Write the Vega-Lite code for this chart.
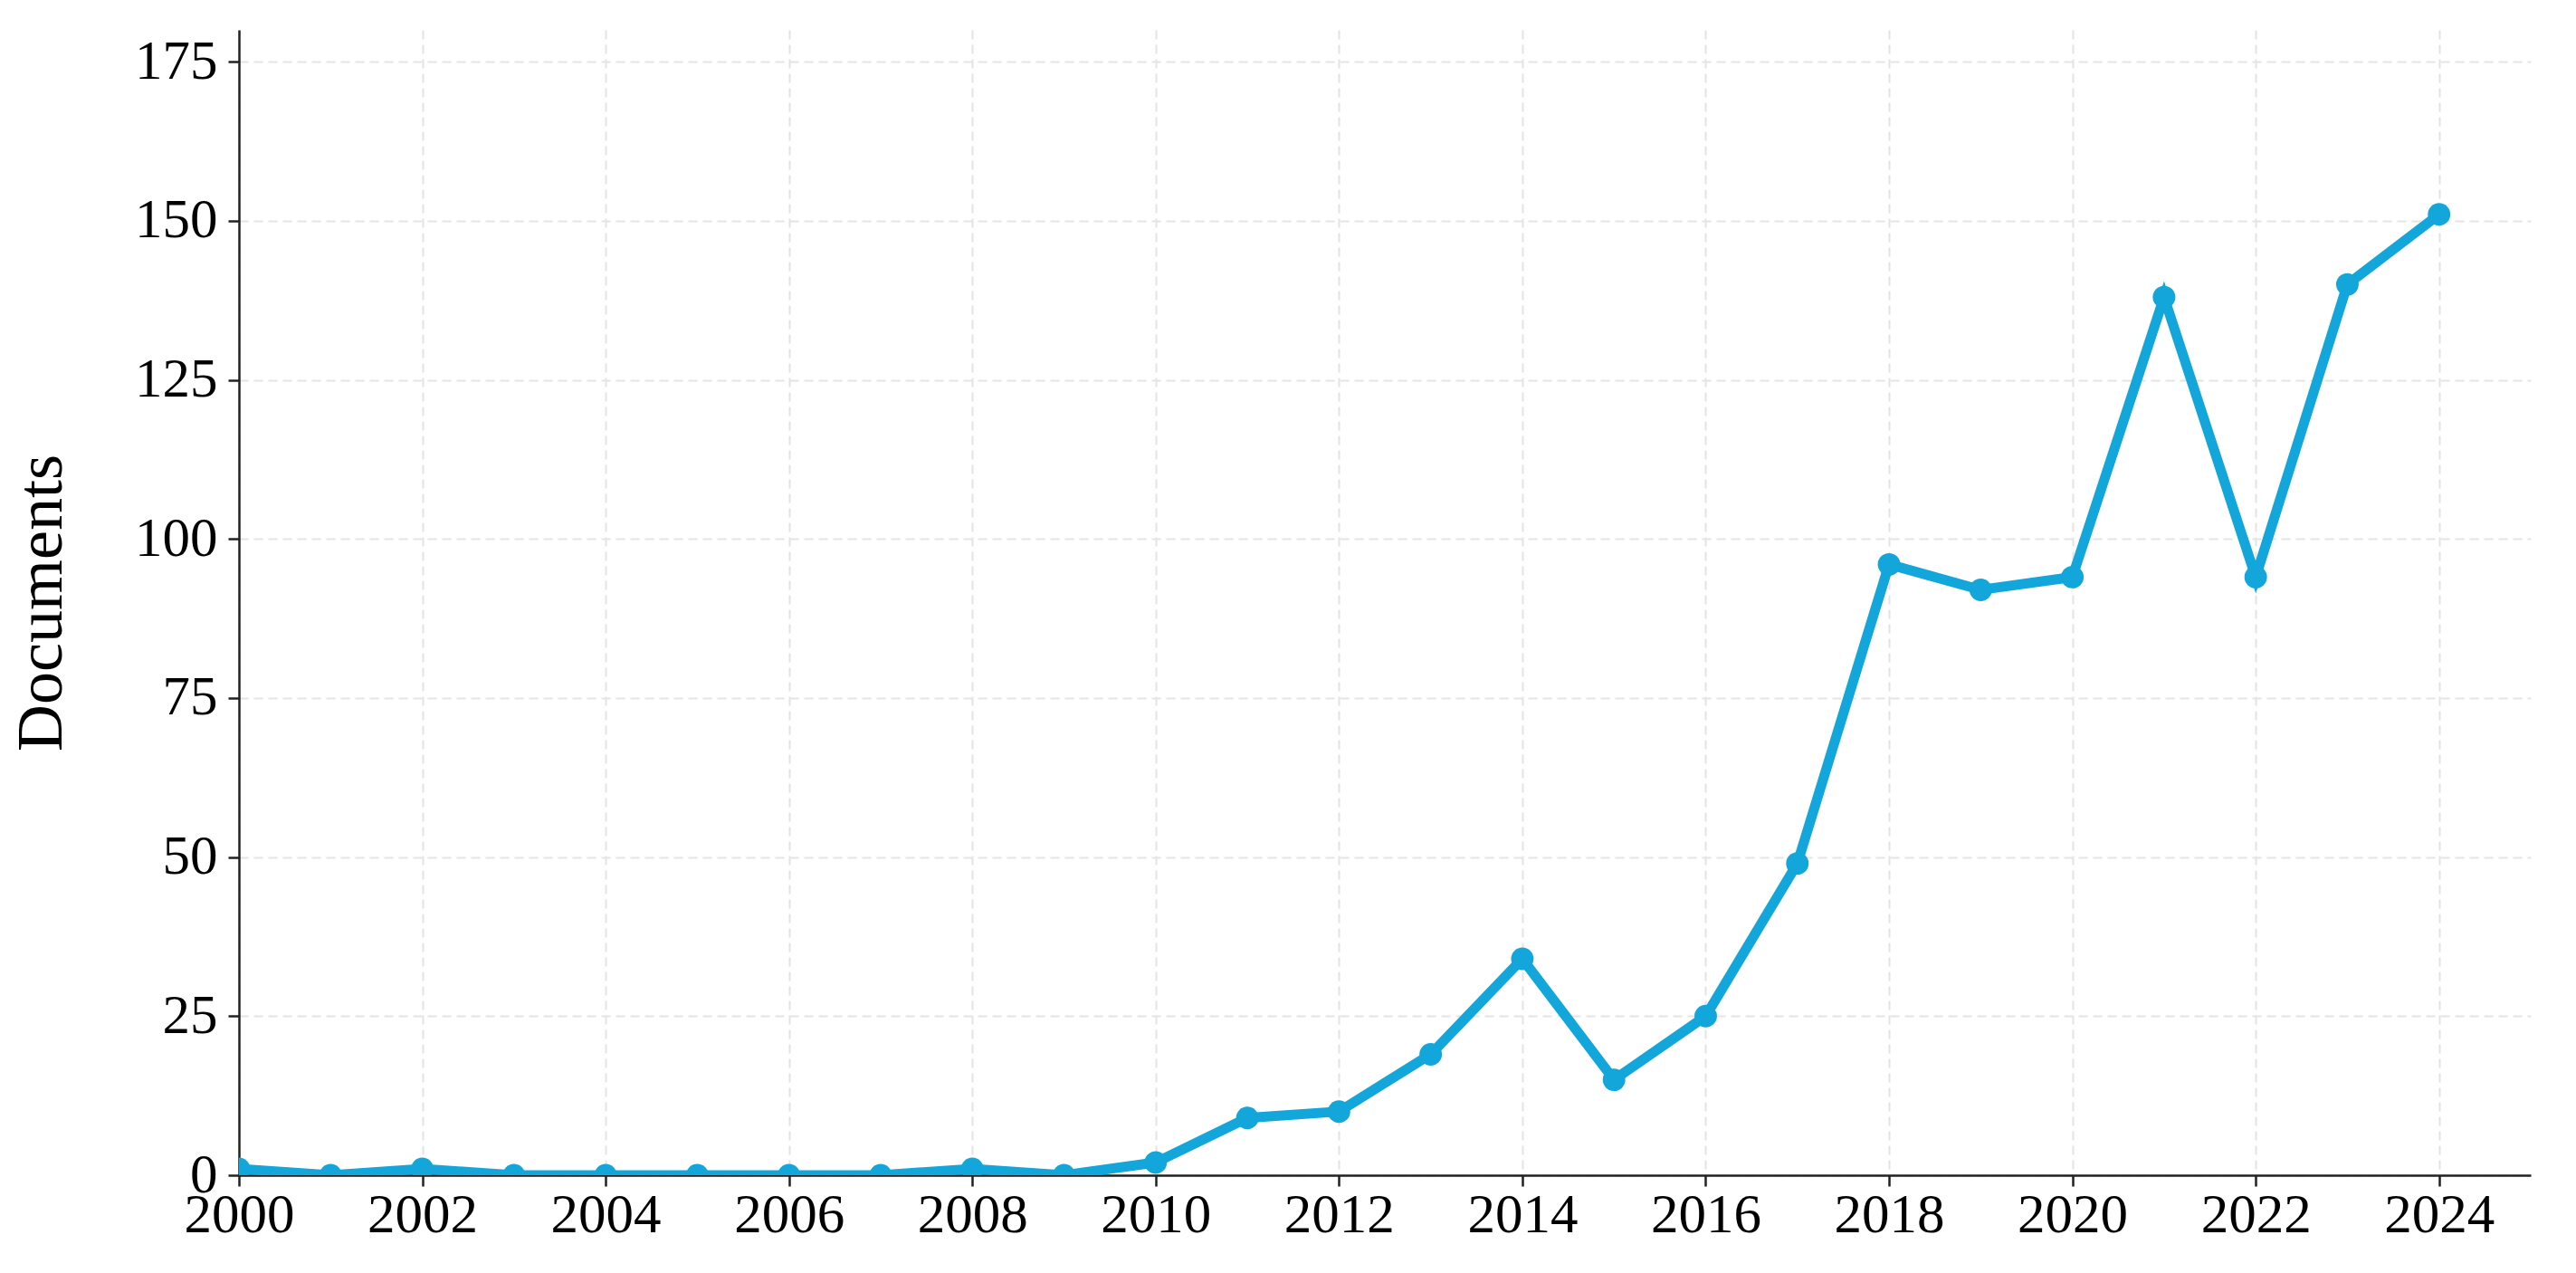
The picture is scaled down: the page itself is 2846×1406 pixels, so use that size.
{
  "$schema": "https://vega.github.io/schema/vega-lite/v6.json",
  "autosize": {"type": "none"},
  "width": 2532,
  "height": 1265,
  "padding": {"left": 264, "top": 33, "right": 50, "bottom": 108},
  "background": "white",
  "config": {
    "view": {"stroke": null},
    "font": "Liberation Serif"
  },
  "data": {
    "values": [
      {"year": 2000, "docs": 1},
      {"year": 2001, "docs": 0},
      {"year": 2002, "docs": 1},
      {"year": 2003, "docs": 0},
      {"year": 2004, "docs": 0},
      {"year": 2005, "docs": 0},
      {"year": 2006, "docs": 0},
      {"year": 2007, "docs": 0},
      {"year": 2008, "docs": 1},
      {"year": 2009, "docs": 0},
      {"year": 2010, "docs": 2},
      {"year": 2011, "docs": 9},
      {"year": 2012, "docs": 10},
      {"year": 2013, "docs": 19},
      {"year": 2014, "docs": 34},
      {"year": 2015, "docs": 15},
      {"year": 2016, "docs": 25},
      {"year": 2017, "docs": 49},
      {"year": 2018, "docs": 96},
      {"year": 2019, "docs": 92},
      {"year": 2020, "docs": 94},
      {"year": 2021, "docs": 138},
      {"year": 2022, "docs": 94},
      {"year": 2023, "docs": 140},
      {"year": 2024, "docs": 151}
    ]
  },
  "encoding": {
    "x": {
      "field": "year",
      "type": "quantitative",
      "scale": {"domain": [2000, 2025], "nice": false, "zero": false},
      "axis": {
        "title": null,
        "values": [2000, 2002, 2004, 2006, 2008, 2010, 2012, 2014, 2016, 2018, 2020, 2022, 2024],
        "format": "d",
        "labelFont": "Liberation Serif",
        "labelFontSize": 61,
        "labelColor": "black",
        "labelPadding": 2,
        "labelFlush": false,
        "labelOverlap": false,
        "domainColor": "#222222",
        "domainWidth": 2.5,
        "tickColor": "#222222",
        "tickWidth": 2.5,
        "tickSize": 12,
        "grid": true,
        "gridColor": "#e4e4e4",
        "gridWidth": 2,
        "gridDash": [10, 6]
      }
    },
    "y": {
      "field": "docs",
      "type": "quantitative",
      "scale": {"domain": [0, 180], "nice": false},
      "axis": {
        "title": "Documents",
        "titleFont": "Liberation Serif",
        "titleFontSize": 72,
        "titleFontWeight": "normal",
        "titleColor": "black",
        "titlePadding": 66,
        "values": [0, 25, 50, 75, 100, 125, 150, 175],
        "labelFont": "Liberation Serif",
        "labelFontSize": 61,
        "labelColor": "black",
        "labelPadding": 12,
        "labelFlush": false,
        "domainColor": "#222222",
        "domainWidth": 2.5,
        "tickColor": "#222222",
        "tickWidth": 2.5,
        "tickSize": 12,
        "grid": true,
        "gridColor": "#e4e4e4",
        "gridWidth": 2,
        "gridDash": [10, 6]
      }
    }
  },
  "layer": [
    {
      "mark": {"type": "line", "color": "#12a6da", "strokeWidth": 11, "clip": true}
    },
    {
      "mark": {"type": "point", "filled": true, "color": "#12a6da", "opacity": 1, "size": 620, "clip": true}
    }
  ]
}
